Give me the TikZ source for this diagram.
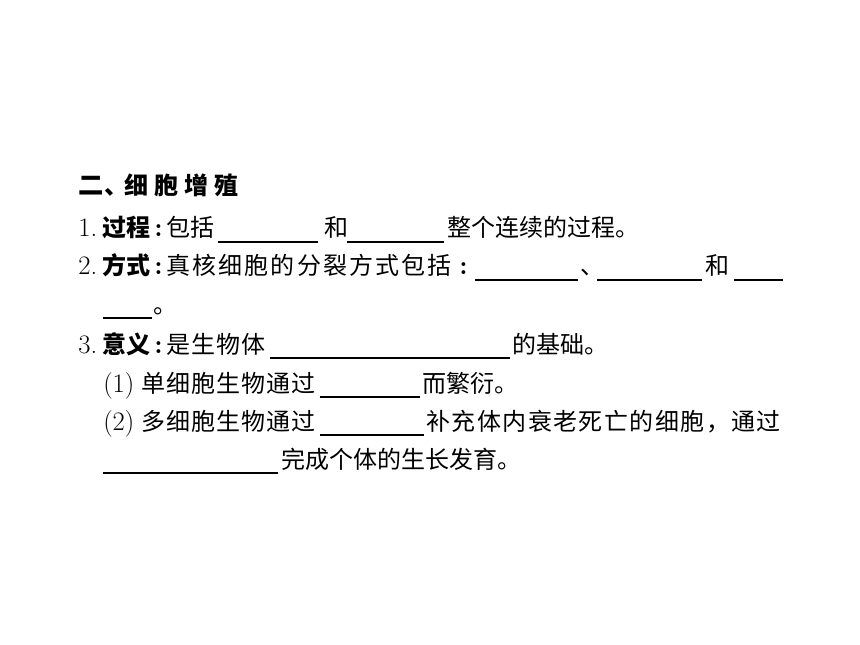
\documentclass[tikz,border=0pt]{standalone}
\usepackage{fontspec}
\newfontfamily\cjk{Noto Sans CJK SC}
\newcommand\ls[1]{\addfontfeature{LetterSpace=#1}}
\begin{document}
\begin{tikzpicture}[x=0.75pt,y=-0.75pt]
\tikzstyle{every node}=[inner sep=0pt,anchor=base west,font=\fontsize{18}{18}\selectfont\cjk]
\tikzstyle{num}=[font=\fontsize{20}{20}\selectfont\rmfamily]
\tikzstyle{colon}=[font=\fontsize{20}{20}\selectfont\rmfamily\bfseries]
\tikzstyle{head}=[font=\fontsize{18}{18}\selectfont\cjk\bfseries]
\tikzstyle{blank}=[line width=0.8pt]
\fill[white] (0,0) rectangle (860,645);
% heading
\draw
node[head,font=\fontsize{19}{19}\selectfont\cjk\bfseries](H1)at(78,195){二}
node[head](H2)at(104,195){、}
node[head](H3)at(124,195){\ls{25}细胞增殖};
% 1.
\draw
node[num](A1)at(78,237){1.}
node[head](A2)at(102,237){过程}
node[colon](A3)at(154,237){:}
node(A4)at(166,237){包括}
node(A5)at(324,237){和}
node(A6)at(447,237){整个连续的过程。};
\draw[blank](218,242)--(318,242);
\draw[blank](347,242)--(444,242);
% 2.
\draw
node[num](B1)at(78,275){2.}
node[head](B2)at(102,275){方式}
node[colon](B3)at(154,275){:}
node(B4)at(166,275){\ls{9}真核细胞的分裂方式包括}
node[colon](B5)at(459,275){:}
node(B6)at(580,275){、}
node(B7)at(705,275){和}
node(C1)at(153,313){。};
\draw[blank](475,280)--(578,280);
\draw[blank](597,280)--(702,280);
\draw[blank](734,280)--(783,280);
\draw[blank](103,318)--(152,318);
% 3.
\draw
node[num](D1)at(78,353){3.}
node[head](D2)at(102,353){意义}
node[colon](D3)at(154,353){:}
node(D4)at(166,353){\ls{4}是生物体}
node(D5)at(512,353){的基础。};
\draw[blank](270,358)--(510,358);
% (1)
\draw
node[num](E1)at(103,392){(1)}
node(E2)at(141,392){\ls{4}单细胞生物通过}
node(E3)at(422,392){而繁衍。};
\draw[blank](320,397)--(420,397);
% (2)
\draw
node[num](F1)at(103,430){(2)}
node(F2)at(141,430){\ls{4}多细胞生物通过}
node(F3)at(426,430){\ls{6}补充体内衰老死亡的细胞，通过}
node(G1)at(281,468){完成个体的生长发育。};
\draw[blank](320,435)--(424,435);
\draw[blank](103,473)--(278,473);
\end{tikzpicture}
\end{document}
